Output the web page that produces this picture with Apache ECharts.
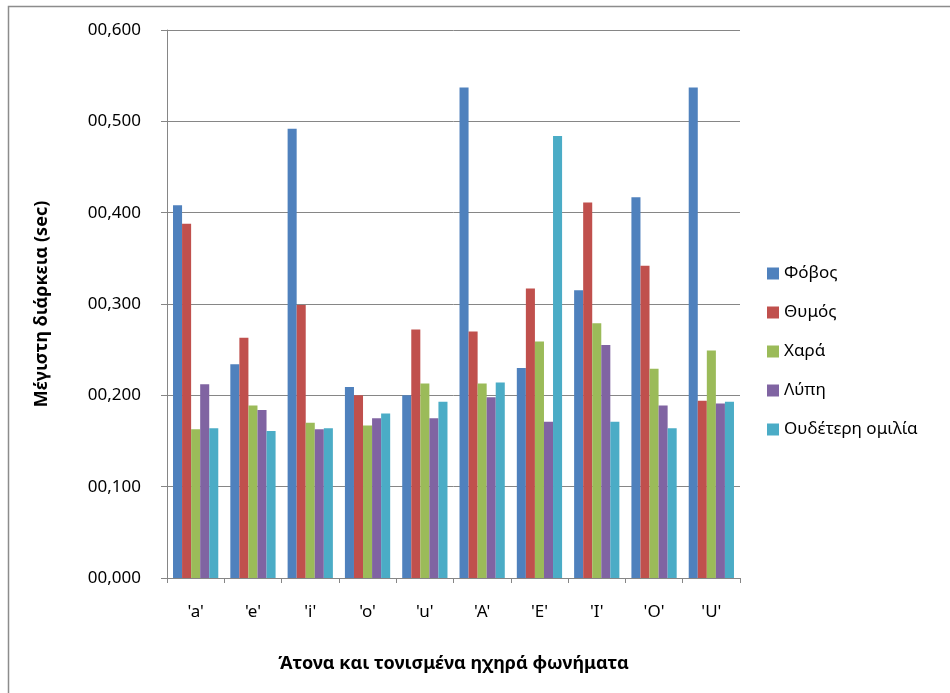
<!DOCTYPE html>
<html><head><meta charset="utf-8">
<script src="https://cdn.jsdelivr.net/npm/echarts@6/dist/echarts.min.js"></script>
<style>html,body{margin:0;padding:0;background:#fff}#c{width:950px;height:693px}</style>
</head><body><div id="c"></div>
<script>
const categories = ["'a'","'e'","'i'","'o'","'u'","'A'","'E'","'I'","'O'","'U'"];
const seriesNames = ["Φόβος","Θυμός","Χαρά","Λύπη","Ουδέτερη ομιλία"];
const fobos   = [0.408,0.234,0.492,0.209,0.200,0.537,0.230,0.315,0.417,0.537];
const thymos  = [0.388,0.263,0.299,0.200,0.272,0.270,0.317,0.411,0.342,0.194];
const chara   = [0.163,0.189,0.170,0.167,0.213,0.213,0.259,0.279,0.229,0.249];
const lypi    = [0.212,0.184,0.163,0.175,0.175,0.198,0.171,0.255,0.189,0.191];
const oudeteri= [0.164,0.161,0.164,0.180,0.193,0.214,0.484,0.171,0.164,0.193];
const yTicks = [0,0.1,0.2,0.3,0.4,0.5,0.6];
const colors = ['#4F81BD','#C0504D','#9BBB59','#8064A2','#4BACC6'];
const allData = [fobos,thymos,chara,lypi,oudeteri];
const font = '"Noto Sans", "Open Sans", sans-serif';
const chart = echarts.init(document.getElementById('c'));
chart.setOption({
  animation:false,
  color: colors,
  graphic:[{type:'rect',shape:{x:8.5,y:6.5,width:1000,height:1000},style:{fill:'none',stroke:'#8c8c8c',lineWidth:1.5}}],
  grid:{left:167,right:210,top:30,bottom:115},
  legend:{orient:'vertical',left:762,top:260,itemGap:22,itemWidth:12,itemHeight:12,icon:'rect',
    textStyle:{fontFamily:font,fontSize:17,color:'#000'},data:seriesNames},
  xAxis:{type:'category',data:categories,
    name:'Άτονα και τονισμένα ηχηρά φωνήματα',nameLocation:'middle',nameGap:77,
    nameTextStyle:{fontFamily:font,fontSize:18,fontWeight:'bold',color:'#000'},
    axisLine:{lineStyle:{color:'#868686'}},
    axisTick:{show:true,length:5,lineStyle:{color:'#868686'}},
    axisLabel:{fontFamily:font,fontSize:17,color:'#000',margin:26}},
  yAxis:{type:'value',min:0,max:0.6,interval:0.1,
    name:'Μέγιστη διάρκεια (sec)',nameLocation:'middle',nameGap:116,nameRotate:90,
    nameTextStyle:{fontFamily:font,fontSize:18,fontWeight:'bold',color:'#000'},
    axisLine:{show:true,lineStyle:{color:'#868686'}},
    axisTick:{show:true,length:6,lineStyle:{color:'#868686'}},
    splitLine:{lineStyle:{color:'#868686'}},
    axisLabel:{fontFamily:font,fontSize:17,color:'#000',margin:26,
      formatter:v=>'0'+v.toFixed(3).replace('.',',')}},
  series: seriesNames.map((n,i)=>({name:n,type:'bar',data:allData[i],barGap:'0%',barCategoryGap:'21%',
    itemStyle:{color:colors[i]}}))
});
</script></body></html>
